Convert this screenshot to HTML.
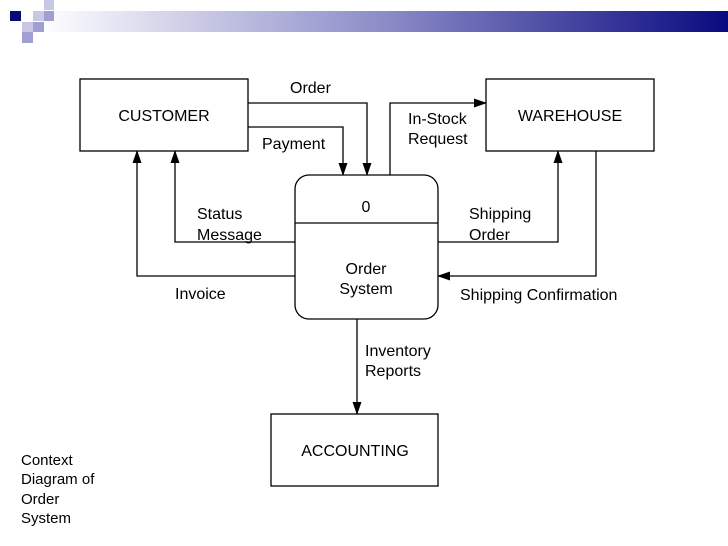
<!DOCTYPE html>
<html><head><meta charset="utf-8"><style>
html,body{margin:0;padding:0;background:#fff}
body{width:728px;height:546px;overflow:hidden;position:relative;font-family:"Liberation Sans",sans-serif}
</style></head><body>
<svg width="728" height="546" viewBox="0 0 728 546" xmlns="http://www.w3.org/2000/svg" style="position:absolute;left:0;top:0">
<defs>
<linearGradient id="g" x1="0" x2="1" y1="0" y2="0">
<stop offset="0" stop-color="#ffffff"/>
<stop offset="0.5" stop-color="#8c8cc8"/>
<stop offset="1" stop-color="#0a0a80"/>
</linearGradient>
<marker id="a" markerWidth="13" markerHeight="10" refX="12" refY="5" orient="auto" markerUnits="userSpaceOnUse">
<path d="M0,0.5 L13,5 L0,9.5 z" fill="#000"/>
</marker>
</defs>
<rect x="40" y="11" width="688" height="21" fill="url(#g)"/>
<rect x="10" y="11" width="11" height="10" fill="#0a0a78"/>
<rect x="44" y="0" width="10" height="10" fill="#c8c8e4"/>
<rect x="33" y="11" width="11" height="10" fill="#c8c8e4"/>
<rect x="44" y="11" width="10" height="10" fill="#a0a0d0"/>
<rect x="22" y="22" width="11" height="10" fill="#c8c8e4"/>
<rect x="33" y="22" width="11" height="10" fill="#a0a0d0"/>
<rect x="22" y="32" width="11" height="11" fill="#a0a0d0"/>
<g fill="none" stroke="#000" stroke-width="1.3">
<rect x="80" y="79" width="168" height="72" fill="#fff"/>
<rect x="486" y="79" width="168" height="72" fill="#fff"/>
<rect x="271" y="414" width="167" height="72" fill="#fff"/>
<rect x="295" y="175" width="143" height="144" rx="14" fill="#fff"/>
<line x1="295" y1="223" x2="438" y2="223"/>
<polyline points="248,103 367,103 367,175" marker-end="url(#a)"/>
<polyline points="248,127 343,127 343,175" marker-end="url(#a)"/>
<polyline points="390,175 390,103 486,103" marker-end="url(#a)"/>
<polyline points="295,242 175,242 175,151" marker-end="url(#a)"/>
<polyline points="295,276 137,276 137,151" marker-end="url(#a)"/>
<polyline points="438,242 558,242 558,151" marker-end="url(#a)"/>
<polyline points="596,151 596,276 438,276" marker-end="url(#a)"/>
<polyline points="357,319 357,414" marker-end="url(#a)"/>
</g>
<g font-size="16" fill="#000" font-family="Liberation Sans, sans-serif">
<text x="164" y="121" text-anchor="middle">CUSTOMER</text>
<text x="570" y="121" text-anchor="middle">WAREHOUSE</text>
<text x="355" y="456" text-anchor="middle">ACCOUNTING</text>
<text x="366" y="212" text-anchor="middle">0</text>
<text x="366" y="274" text-anchor="middle">Order</text>
<text x="366" y="294" text-anchor="middle">System</text>
<text x="290" y="93">Order</text>
<text x="262" y="149">Payment</text>
<text x="408" y="124">In-Stock</text>
<text x="408" y="144">Request</text>
<text x="197" y="219">Status</text>
<text x="197" y="240">Message</text>
<text x="175" y="299">Invoice</text>
<text x="469" y="219">Shipping</text>
<text x="469" y="240">Order</text>
<text x="460" y="300">Shipping Confirmation</text>
<text x="365" y="356">Inventory</text>
<text x="365" y="376">Reports</text>
<text x="21" y="465" font-size="15">Context</text>
<text x="21" y="484" font-size="15">Diagram of</text>
<text x="21" y="504" font-size="15">Order</text>
<text x="21" y="523" font-size="15">System</text>
</g>
</svg>
</body></html>
